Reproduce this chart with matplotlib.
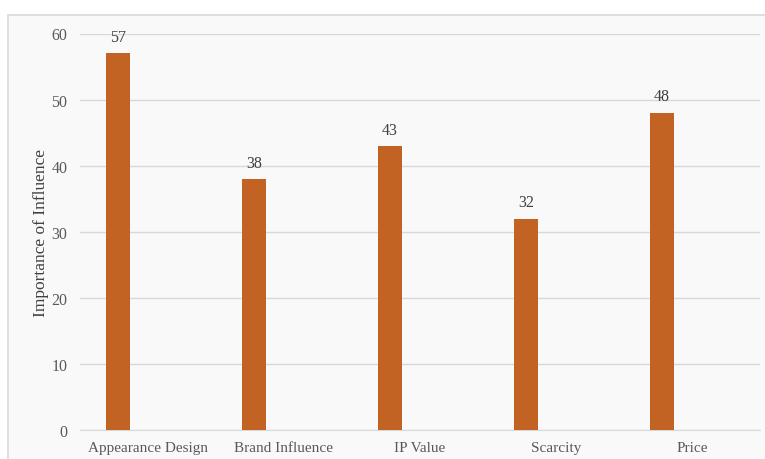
import matplotlib
matplotlib.use('Agg')
import matplotlib.pyplot as plt
from matplotlib.patches import Rectangle
import numpy as np

categories = ['Appearance Design', 'Brand Influence', 'IP Value', 'Scarcity', 'Price']
values = [57, 38, 43, 32, 48]

plt.rcParams['font.family'] = ['Liberation Serif', 'DejaVu Serif']

W, H = 765, 460
fig = plt.figure(figsize=(W / 100, H / 100), dpi=100)
fig.patch.set_facecolor('white')

# chart area frame (runs off the right/bottom edge)
bg = fig.add_axes([0, 0, 1, 1], zorder=0)
bg.axis('off')
bg.set_xlim(0, W)
bg.set_ylim(H, 0)
bg.add_patch(Rectangle((8, 16), W, H, facecolor='#f9f9f9', edgecolor='#d9d9d9', linewidth=1.2))

ax = fig.add_axes([80 / W, (H - 431) / H, 680 / W, (431 - 34.5) / H], zorder=1)
ax.set_facecolor('none')

x = np.arange(len(categories))
bars = ax.bar(x - 0.22, values, width=0.176, color='#C26324', zorder=3)
for b, v in zip(bars, values):
    ax.annotate(f'{v}', (b.get_x() + b.get_width() / 2, v), textcoords='offset points',
                xytext=(0, 6), ha='center', va='bottom', fontsize=11.5, color='#404040')

ax.set_xlim(-0.5, len(categories) - 0.5)
ax.set_ylim(0, 60)
ax.set_yticks(range(0, 61, 10))
ax.set_xticks(x)
ax.set_xticklabels(categories, fontsize=11)
ax.tick_params(axis='both', length=0, labelcolor='#595959')
ax.tick_params(axis='y', pad=9, labelsize=11.5)
ax.tick_params(axis='x', pad=8)
ax.grid(axis='y', color='#d9d9d9', linewidth=1, zorder=0)
for s in ['top', 'right', 'left']:
    ax.spines[s].set_visible(False)
ax.spines['bottom'].set_color('#d9d9d9')
ax.set_ylabel('Importance of Influence', fontsize=12.5, color='#404040', labelpad=2)

fig.savefig('out.png', dpi=100)
